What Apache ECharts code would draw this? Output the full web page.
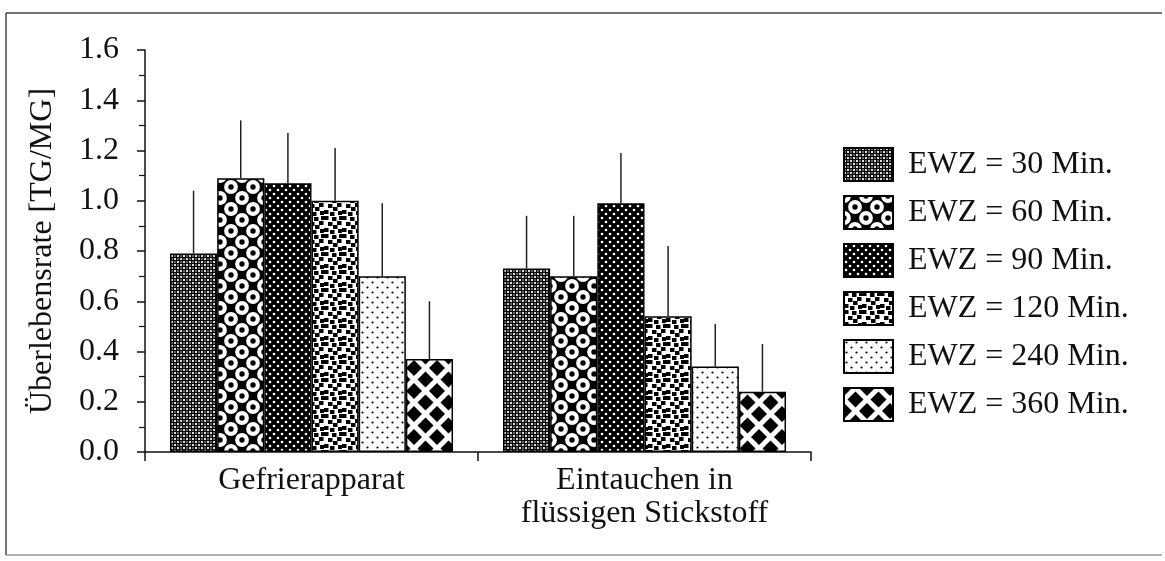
<!DOCTYPE html>
<html>
<head>
<meta charset="utf-8">
<script src="https://cdn.jsdelivr.net/npm/echarts@6/dist/echarts.min.js"></script>
<style>
  html, body { margin: 0; padding: 0; background: #fff; }
  #chart { width: 1165px; height: 561px; }
</style>
</head>
<body>
<div id="chart"></div>
<script>
// categories and series
const categories = ["Gefrierapparat", "Eintauchen in\nflüssigen Stickstoff"];
const seriesNames = ["EWZ = 30 Min.", "EWZ = 60 Min.", "EWZ = 90 Min.", "EWZ = 120 Min.", "EWZ = 240 Min.", "EWZ = 360 Min."];

// mean survival rate [TG/MG] per category
const ewz30 = [0.79, 0.73];
const ewz60 = [1.09, 0.70];
const ewz90 = [1.07, 0.99];
const ewz120 = [1.00, 0.54];
const ewz240 = [0.70, 0.34];
const ewz360 = [0.37, 0.24];

// standard deviation (upper error bar length)
const sd30 = [0.25, 0.21];
const sd60 = [0.23, 0.24];
const sd90 = [0.20, 0.20];
const sd120 = [0.21, 0.28];
const sd240 = [0.29, 0.17];
const sd360 = [0.23, 0.19];

const means = [ewz30, ewz60, ewz90, ewz120, ewz240, ewz360];
const sds = [sd30, sd60, sd90, sd120, sd240, sd360];

const FONT = '"Liberation Serif", "DejaVu Serif", serif';
const GAP = 0.15;

// fill patterns, like the printed hatching
function tile(w, h, draw) {
  const c = document.createElement("canvas");
  c.width = w; c.height = h;
  const ctx = c.getContext("2d");
  draw(ctx, w, h);
  return { image: c, repeat: "repeat" };
}
function dot(ctx, x, y, r) {
  ctx.beginPath(); ctx.arc(x, y, r, 0, Math.PI * 2); ctx.fill();
}

const patterns = [
  tile(6, 6, (ctx) => {
    ctx.fillStyle = "#000"; ctx.fillRect(0, 0, 6, 6);
    ctx.fillStyle = "#ddd";
    [[0, 0], [3, 3]].forEach(p => ctx.fillRect(p[0], p[1], 2, 2));
    ctx.fillStyle = "#666";
    [[3, 0], [0, 3]].forEach(p => ctx.fillRect(p[0], p[1], 2, 2));
  }),
  tile(22, 22, (ctx) => {
    ctx.fillStyle = "#000"; ctx.fillRect(0, 0, 22, 22);
    [[11, 11], [0, 0], [22, 0], [0, 22], [22, 22]].forEach(p => {
      ctx.fillStyle = "#fff"; dot(ctx, p[0], p[1], 6.9);
      ctx.fillStyle = "#000"; dot(ctx, p[0], p[1], 2.7);
    });
  }),
  tile(8, 8, (ctx) => {
    ctx.fillStyle = "#000"; ctx.fillRect(0, 0, 8, 8);
    ctx.fillStyle = "#fff";
    dot(ctx, 2, 2, 1.3); dot(ctx, 6, 6, 1.3);
  }),
  tile(18, 18, (ctx) => {
    ctx.fillStyle = "#fff"; ctx.fillRect(0, 0, 18, 18);
    ctx.fillStyle = "#000";
    [[0, 0], [8, 1], [13, 5], [4, 6], [9, 9], [0, 12], [6, 14], [14, 13], [15, 0]].forEach(p => ctx.fillRect(p[0], p[1], 4.5, 4));
  }),
  tile(10, 10, (ctx) => {
    ctx.fillStyle = "#fff"; ctx.fillRect(0, 0, 10, 10);
    ctx.fillStyle = "#000";
    dot(ctx, 2.5, 2.5, 1.1); dot(ctx, 7.5, 7.5, 1.1);
  }),
  tile(23, 23, (ctx) => {
    ctx.fillStyle = "#fff"; ctx.fillRect(0, 0, 23, 23);
    ctx.fillStyle = "#000";
    const h = 8;
    [[11.5, 11.5], [0, 0], [23, 0], [0, 23], [23, 23]].forEach(p => {
      ctx.beginPath();
      ctx.moveTo(p[0], p[1] - h); ctx.lineTo(p[0] + h, p[1]); ctx.lineTo(p[0], p[1] + h); ctx.lineTo(p[0] - h, p[1]);
      ctx.closePath(); ctx.fill();
    });
  })
];

const errData = [];
means.forEach((m, s) => m.forEach((v, c) => errData.push([c, v, sds[s][c], s])));

function renderErr(params, api) {
  const c = api.value(0), v = api.value(1), e = api.value(2), s = api.value(3);
  const W = api.size([1, 0])[0];
  const group = W * (1 - GAP);
  const bw = group / seriesNames.length;
  const x = api.coord([c, 0])[0] - group / 2 + bw * (s + 0.5);
  const y0 = api.coord([c, v])[1];
  const y1 = api.coord([c, v + e])[1];
  return {
    type: "line",
    shape: { x1: x, y1: y0, x2: x, y2: y1 },
    style: { stroke: "#222", lineWidth: 1.5 }
  };
}

const chart = echarts.init(document.getElementById("chart"));

chart.setOption({
  animation: false,
  backgroundColor: "#fff",
  textStyle: { fontFamily: FONT, color: "#111" },
  grid: { left: 145, right: 354, top: 50, bottom: 109 },
  legend: {
    orient: "vertical",
    left: 843,
    top: 147,
    padding: 0,
    data: seriesNames,
    icon: "rect",
    itemWidth: 49,
    itemHeight: 33,
    itemGap: 13,
    selectedMode: false,
    textStyle: { fontFamily: FONT, fontSize: 32, lineHeight: 33, color: "#111", padding: [0, 0, 0, 10] }
  },
  xAxis: {
    type: "category",
    data: categories,
    axisLine: { lineStyle: { color: "#111", width: 1.5 } },
    axisTick: { show: true, length: 9, lineStyle: { color: "#111", width: 1.5 } },
    axisLabel: { color: "#111", fontFamily: FONT, fontSize: 32, lineHeight: 33, margin: 12 },
    splitLine: { show: false }
  },
  yAxis: {
    type: "value",
    min: 0,
    max: 1.6,
    interval: 0.2,
    name: "Überlebensrate [TG/MG]",
    nameLocation: "middle",
    nameGap: 86,
    nameTextStyle: { fontFamily: FONT, fontSize: 32, color: "#111" },
    axisLine: { show: true, lineStyle: { color: "#111", width: 1.5 } },
    axisTick: { show: true, length: 8, lineStyle: { color: "#111", width: 1.5 } },
    minorTick: { show: true, splitNumber: 2, length: 6, lineStyle: { color: "#111", width: 1.2 } },
    axisLabel: { color: "#111", fontFamily: FONT, fontSize: 32, margin: 26, formatter: (v) => v.toFixed(1) },
    splitLine: { show: false }
  },
  graphic: [
    { type: "line", shape: { x1: 6, y1: 13, x2: 6, y2: 555 }, style: { stroke: "#444", lineWidth: 1.5 } },
    { type: "line", shape: { x1: 6, y1: 13, x2: 1162, y2: 13 }, style: { stroke: "#444", lineWidth: 1.5 } },
    { type: "line", shape: { x1: 6, y1: 555, x2: 1162, y2: 555 }, style: { stroke: "#999", lineWidth: 1.5 } }
  ],
  series: seriesNames.map((name, i) => ({
    name: name,
    type: "bar",
    data: means[i],
    barGap: "0%",
    barCategoryGap: GAP * 100 + "%",
    itemStyle: { color: patterns[i], borderColor: "#000", borderWidth: 1.5 }
  })).concat([{
    name: "sd",
    type: "custom",
    data: errData,
    renderItem: renderErr,
    encode: { x: 0, y: 1 },
    z: 5,
    silent: true
  }])
});
</script>
</body>
</html>
